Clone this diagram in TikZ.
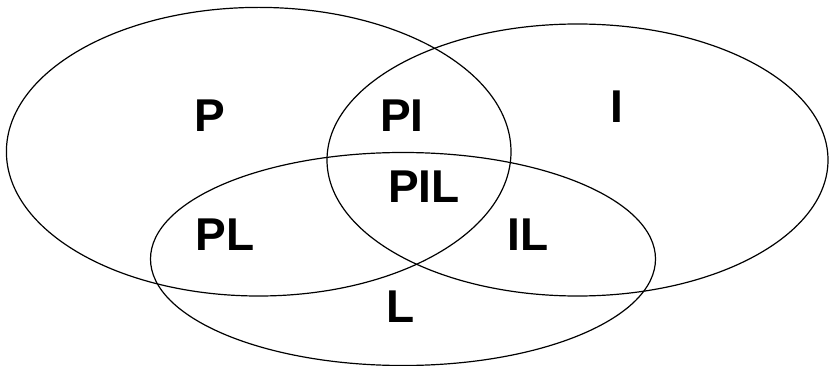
\documentclass[tikz,border=0pt]{standalone}
\usepackage{fontspec}
\setmainfont{Liberation Sans}
\begin{document}
\begin{tikzpicture}[x=1pt,y=-1pt,
  setline/.style={draw=black,line width=1.2pt},
  lbl/.style={inner sep=0pt,font=\fontsize{46}{46}\selectfont\bfseries}]
\useasboundingbox (0,0) rectangle (829,366);
\draw[setline] (258.7,151.7) ellipse [x radius=252.3, y radius=144.3];
\draw[setline] (577.5,160) ellipse [x radius=250.5, y radius=136];
\draw[setline] (403,259) ellipse [x radius=252.5, y radius=106.5];
\node[lbl] (p) at (210,116) {P};
\node[lbl] (pi) at (402,116) {PI};
\node[lbl] (i) at (617,107) {I};
\node[lbl] (pil) at (424,187) {PIL};
\node[lbl] (pl) at (225,235) {PL};
\node[lbl] (il) at (528,235) {IL};
\node[lbl] (l) at (401,307) {L};
\end{tikzpicture}
\end{document}
